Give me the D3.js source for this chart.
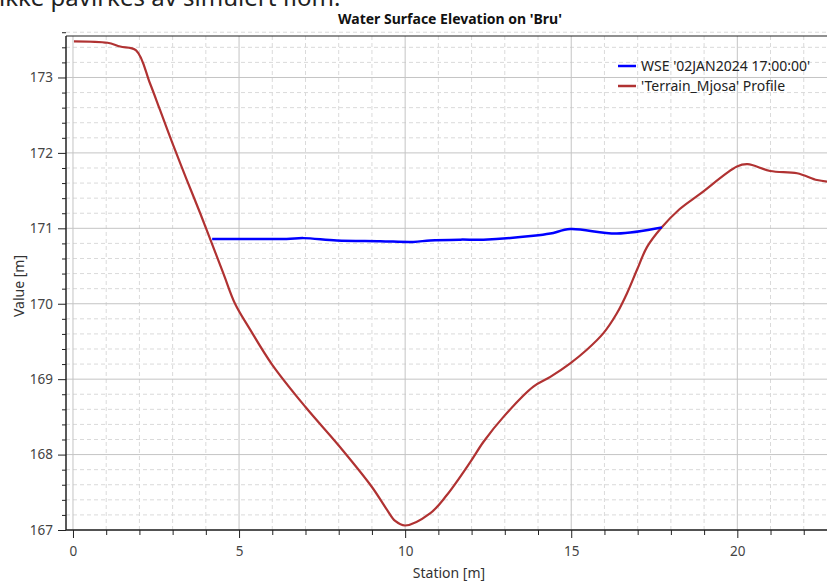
<!DOCTYPE html>
<html>
<head>
<meta charset="utf-8">
<script src="https://cdn.jsdelivr.net/npm/d3@7"></script>
<style>
	body { margin: 0; background: #fff; overflow: hidden; }
	svg { display: block; font-family: "Noto Sans", "Open Sans", sans-serif; }
</style>
</head>
<body>
<svg id="chart" width="827" height="581"></svg>
<script>
var terrainStation = [0.03, 1.04, 1.42, 1.9, 2.32, 2.62, 3.02, 3.42, 3.83, 4.18, 4.53, 4.88, 5.33, 6.0, 7.0, 8.0, 9.0, 9.45, 9.7, 10.0,
	10.75, 11.25, 11.96, 12.36, 12.96, 13.86, 14.37, 14.97, 15.47, 15.97, 16.37, 16.68, 16.98, 17.28, 17.7, 18.25, 18.89,
	19.99, 20.31, 20.99, 21.8, 22.4, 22.7];
var terrainValue = [173.48, 173.46, 173.41, 173.36, 172.92, 172.57, 172.1, 171.65, 171.2, 170.8, 170.4, 170.0, 169.66, 169.19,
	168.63, 168.12, 167.57, 167.27, 167.12, 167.06, 167.22, 167.46, 167.9, 168.17, 168.5, 168.9, 169.03, 169.21, 169.39,
	169.61, 169.87, 170.14, 170.45, 170.75, 171.0, 171.25, 171.46, 171.82, 171.85, 171.76, 171.73, 171.64, 171.62];

var wseStation = [4.19, 6.43, 6.94, 7.94, 9.25, 10.25, 10.75, 11.66, 12.36, 13.86, 14.37, 14.97, 16.37, 17.73];
var wseValue = [170.86, 170.86, 170.87, 170.84, 170.83, 170.82, 170.84, 170.85, 170.85, 170.9, 170.93, 170.99, 170.93, 171.01];

var xMajor = [0, 5, 10, 15, 20];
var yMajor = [167, 168, 169, 170, 171, 172, 173];

var legendLabels = ["WSE '02JAN2024 17:00:00'", "'Terrain_Mjosa' Profile"];
var seriesColors = ["#0000ff", "#b03232"];

var svg = d3.select("#chart");

// plot box (not "top": that name is taken by window.top)
var plotLeft = 66, plotRight = 827, plotTop = 36, plotBottom = 530;

var x = d3.scaleLinear()
	.domain([-0.21, 22.7])
	.range([plotLeft, plotRight]);

var y = d3.scaleLinear()
	.domain([167, 173.55])
	.range([plotBottom, plotTop]);

// clipped text from the page above the chart
svg.append("text")
	.attr("x", -1)
	.attr("y", 6)
	.style("font-size", "24px")
	.style("fill", "#222")
	.text("ikke påvirkes av simulert flom.");

svg.append("text")
	.attr("x", 450)
	.attr("y", 24)
	.attr("text-anchor", "middle")
	.style("font-size", "14px")
	.style("font-weight", "bold")
	.style("fill", "#111")
	.text("Water Surface Elevation on 'Bru'");

// grid
var xMinor = d3.range(0, 23, 1).filter((d) => xMajor.indexOf(d) < 0);
var yMinor = d3.range(167.2, 173.6, 0.2).filter((d) => Math.abs(d - Math.round(d)) > 0.01);

var grid = svg.append("g");

grid.selectAll(".xMinor")
	.data(xMinor)
.enter().append("line")
	.attr("x1", (d) => x(d)).attr("x2", (d) => x(d))
	.attr("y1", plotTop).attr("y2", plotBottom)
	.style("stroke", "#dadada")
	.style("stroke-dasharray", "4,3");

grid.selectAll(".yMinor")
	.data(yMinor)
.enter().append("line")
	.attr("x1", plotLeft).attr("x2", plotRight)
	.attr("y1", (d) => y(d)).attr("y2", (d) => y(d))
	.style("stroke", "#dadada")
	.style("stroke-dasharray", "4,3");

grid.selectAll(".xMajor")
	.data(xMajor)
.enter().append("line")
	.attr("x1", (d) => x(d)).attr("x2", (d) => x(d))
	.attr("y1", plotTop).attr("y2", plotBottom)
	.style("stroke", "#c4c4c4");

grid.selectAll(".yMajor")
	.data(yMajor)
.enter().append("line")
	.attr("x1", plotLeft).attr("x2", plotRight)
	.attr("y1", (d) => y(d)).attr("y2", (d) => y(d))
	.style("stroke", "#c4c4c4");

// axes
svg.append("g")
	.attr("transform", "translate(0," + plotBottom + ")")
	.call(d3.axisBottom(x).tickValues(xMajor).tickSize(8).tickPadding(8).tickFormat(d3.format("d")));

svg.append("g")
	.attr("transform", "translate(0," + plotBottom + ")")
	.call(d3.axisBottom(x).tickValues(xMinor).tickSize(5).tickFormat(""));

svg.append("g")
	.attr("transform", "translate(" + plotLeft + ",0)")
	.call(d3.axisLeft(y).tickValues(yMajor).tickSize(8).tickPadding(5).tickFormat(d3.format("d")));

svg.append("g")
	.attr("transform", "translate(" + plotLeft + ",0)")
	.call(d3.axisLeft(y).tickValues(yMinor).tickSize(4).tickFormat(""));

svg.selectAll(".domain").remove();
svg.selectAll(".tick line").style("stroke", "#222");
svg.selectAll(".tick text")
	.style("font-size", "13.5px")
	.style("fill", "#444")
	.style("font-family", "'Noto Sans', sans-serif");

// frame
svg.append("line")
	.attr("x1", plotLeft).attr("x2", plotLeft).attr("y1", plotTop).attr("y2", plotBottom)
	.style("stroke", "#222").style("stroke-width", 1.5);
svg.append("line")
	.attr("x1", plotLeft).attr("x2", plotRight).attr("y1", plotBottom).attr("y2", plotBottom)
	.style("stroke", "#222").style("stroke-width", 1.5);
svg.append("line")
	.attr("x1", plotLeft).attr("x2", plotRight).attr("y1", plotTop).attr("y2", plotTop)
	.style("stroke", "#222").style("stroke-width", 1.2);

svg.append("text")
	.attr("x", 449)
	.attr("y", 578)
	.attr("text-anchor", "middle")
	.style("font-size", "14px")
	.style("fill", "#333")
	.text("Station [m]");

svg.append("text")
	.attr("transform", "translate(24,286) rotate(-90)")
	.attr("text-anchor", "middle")
	.style("font-size", "14px")
	.style("fill", "#333")
	.text("Value [m]");

// series
var line = d3.line()
	.x((d) => x(d[0]))
	.y((d) => y(d[1]))
	.curve(d3.curveCatmullRom.alpha(0.5));

svg.append("path")
	.datum(terrainStation.map((d, i) => [d, terrainValue[i]]))
	.attr("d", line)
	.style("fill", "none")
	.style("stroke", seriesColors[1])
	.style("stroke-width", 2.2);

svg.append("path")
	.datum(wseStation.map((d, i) => [d, wseValue[i]]))
	.attr("d", line)
	.style("fill", "none")
	.style("stroke", seriesColors[0])
	.style("stroke-width", 2.5);

// legend
var legend = svg.selectAll(".legendItem")
	.data(legendLabels)
.enter().append("g")
	.attr("class", "legendItem")
	.attr("transform", (d, i) => "translate(618," + (66 + i * 20) + ")");

legend.append("line")
	.attr("x1", 0).attr("x2", 18)
	.style("stroke", (d, i) => seriesColors[i])
	.style("stroke-width", 2.5);

legend.append("text")
	.attr("x", 23)
	.attr("y", 5)
	.style("font-size", "14px")
	.style("fill", "#222")
	.text((d) => d);
</script>
</body>
</html>
